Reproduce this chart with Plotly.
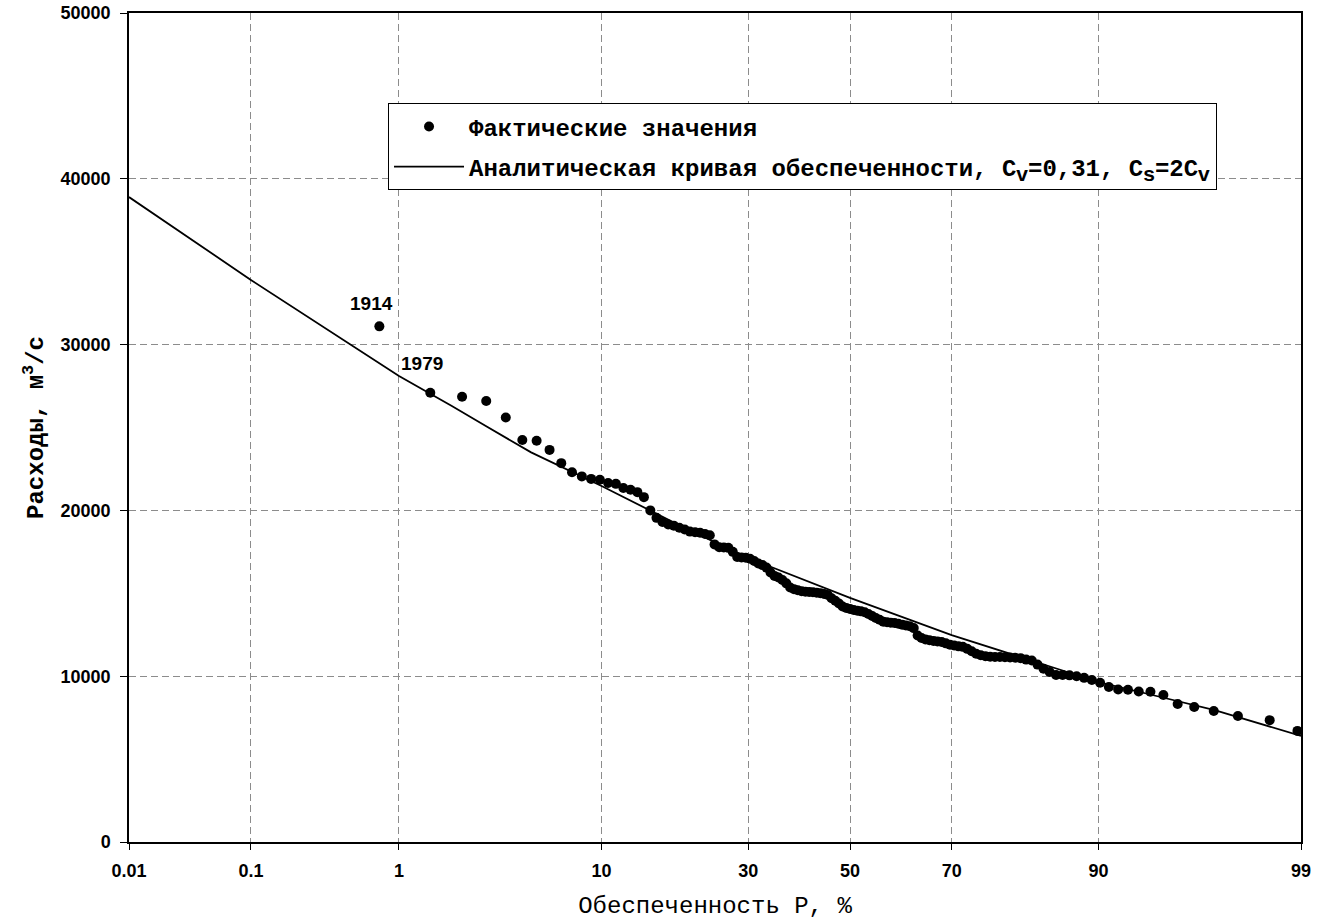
import plotly.graph_objects as go
from statistics import NormalDist

# ---------------- data ----------------
# observed values: exceedance probability P (%) and discharge Q (m3/s)
P_obs = [0.76, 1.52, 2.27, 3.03, 3.79, 4.55, 5.30, 6.06, 6.82, 7.58,
         8.33, 9.09, 9.85, 10.61, 11.36, 12.12, 12.88, 13.64, 14.39, 15.15,
         15.91, 16.67, 17.42, 18.18, 18.94, 19.70, 20.45, 21.21, 21.97, 22.73,
         23.48, 24.24, 25.00, 25.76, 26.52, 27.27, 28.03, 28.79, 29.55, 30.30,
         31.06, 31.82, 32.58, 33.33, 34.09, 34.85, 35.61, 36.36, 37.12, 37.88,
         38.64, 39.39, 40.15, 40.91, 41.67, 42.42, 43.18, 43.94, 44.70, 45.45,
         46.21, 46.97, 47.73, 48.48, 49.24, 50.00, 50.76, 51.52, 52.27, 53.03,
         53.79, 54.55, 55.30, 56.06, 56.82, 57.58, 58.33, 59.09, 59.85, 60.61,
         61.36, 62.12, 62.88, 63.64, 64.39, 65.15, 65.91, 66.67, 67.42, 68.18,
         68.94, 69.70, 70.45, 71.21, 71.97, 72.73, 73.48, 74.24, 75.00, 75.76,
         76.52, 77.27, 78.03, 78.79, 79.55, 80.30, 81.06, 81.82, 82.58, 83.33,
         84.09, 84.85, 85.61, 86.36, 87.12, 87.88, 88.64, 89.39, 90.15, 90.91,
         91.67, 92.42, 93.18, 93.94, 94.70, 95.45, 96.21, 96.97, 97.73, 98.48,
         98.95]
Q_obs = [31100, 27100, 26850, 26600, 25600, 24250, 24200, 23650, 22850, 22300,
         22050, 21900, 21850, 21650, 21600, 21350, 21250, 21100, 20800, 20000,
         19550, 19300, 19150, 19080, 18950, 18850, 18720, 18680, 18650, 18580,
         18500, 17950, 17780, 17760, 17740, 17500, 17190, 17160, 17140, 17080,
         16950, 16800, 16700, 16550, 16250, 16050, 15950, 15800, 15600, 15350,
         15250, 15180, 15130, 15100, 15080, 15060, 15040, 15010, 14960, 14900,
         14700, 14550, 14380, 14200, 14120, 14060, 13990, 13950, 13910, 13860,
         13750, 13630, 13510, 13400, 13290, 13250, 13230, 13210, 13160, 13110,
         13060, 13010, 12900, 12450, 12300, 12220, 12170, 12130, 12100, 12060,
         11980, 11900, 11850, 11800, 11770, 11650, 11500, 11350, 11260, 11200,
         11170, 11160, 11160, 11150, 11130, 11110, 11090, 11000, 10950, 10700,
         10450, 10250, 10070, 10070, 10050, 10000, 9900, 9770, 9600, 9350,
         9200, 9180, 9080, 9060, 8870, 8320, 8140, 7900, 7600, 7350,
         6700]

# analytical exceedance curve
P_curve = [0.01, 0.1, 1, 2, 3, 5, 10, 20, 30, 50, 70, 80, 90, 95, 97, 99]
Q_curve = [38900, 33900, 28100, 26300, 25100, 23500, 21470, 18880,
           17130, 14720, 12480, 11280, 9650, 8625, 7950, 6400]

tick_P = [0.01, 0.1, 1, 10, 30, 50, 70, 90, 99]
tick_text = ["0.01", "0.1", "1", "10", "30", "50", "70", "90", "99"]

label_years = ["1914", "1979"]
label_index = [0, 1]

# ---------------- probability-paper transform ----------------
ND = NormalDist()


def zp(p):
    return ND.inv_cdf(p / 100.0)


x_obs = [zp(p) for p in P_obs]
x_curve = [zp(p) for p in P_curve]
x_ticks = [zp(p) for p in tick_P]

MONO = "Liberation Mono, Courier New, monospace"
SANS = "Liberation Sans, Arial, sans-serif"


def sub(s):
    return ('<sub><span style="font-size:21px;font-family:Liberation Sans">'
            + s + '</span></sub>')


fig = go.Figure()
fig.add_trace(go.Scatter(
    x=x_obs, y=Q_obs, mode="markers",
    name="Фактические значения", legendgroup="a",
    marker=dict(color="black", size=10, symbol="circle", line=dict(width=0)),
    cliponaxis=False,
))
fig.add_trace(go.Scatter(
    x=x_curve, y=Q_curve, mode="lines", legendgroup="b",
    name="Аналитическая кривая обеспеченности, C" + sub("v") + "=0,31, C"
         + sub("s") + "=2C" + sub("v"),
    line=dict(color="black", width=1.8),
))

for yr, i in zip(label_years, label_index):
    fig.add_annotation(
        x=x_obs[i], y=Q_obs[i], text=yr, showarrow=False,
        xshift=-8, yshift=23 if i == 0 else 29,
        font=dict(family=SANS, size=19, color="black", weight="bold"),
    )

grid = dict(showgrid=True, gridcolor="#8c8c8c", gridwidth=1, griddash="7px,4px")

fig.update_xaxes(
    range=[zp(0.01), zp(99)],
    tickmode="array", tickvals=x_ticks, ticktext=tick_text,
    ticks="outside", ticklen=6, tickcolor="black", tickwidth=1,
    showline=True, linecolor="black", linewidth=1.5, mirror=True,
    zeroline=False,
    tickfont=dict(family=SANS, size=18, color="black", weight="bold"),
    ticklabelstandoff=6,
    title=dict(text="Обеспеченность P, %", standoff=20,
               font=dict(family=MONO, size=24, color="black")),
    **grid,
)
fig.update_yaxes(
    range=[0, 50000], dtick=10000, tick0=0, tickformat="d",
    ticks="outside", ticklen=7, tickcolor="black", tickwidth=1,
    showline=True, linecolor="black", linewidth=1.5, mirror=True,
    zeroline=False,
    tickfont=dict(family=SANS, size=18, color="black", weight="bold"),
    ticklabelstandoff=6,
    title=dict(text="Расходы, м<sup>3</sup>/с", standoff=10,
               font=dict(family=MONO, size=24, color="black", weight="bold")),
    **grid,
)

fig.update_layout(
    width=1319, height=920,
    margin=dict(l=129, r=18, t=13, b=78, autoexpand=False),
    paper_bgcolor="white", plot_bgcolor="white",
    showlegend=True,
    legend=dict(
        x=0.221, y=0.891, xanchor="left", yanchor="top",
        bgcolor="white", bordercolor="black", borderwidth=1,
        font=dict(family=MONO, size=24, color="black", weight="bold"),
        itemwidth=70, traceorder="grouped", tracegroupgap=6,
    ),
)

fig.write_html("out.html")
